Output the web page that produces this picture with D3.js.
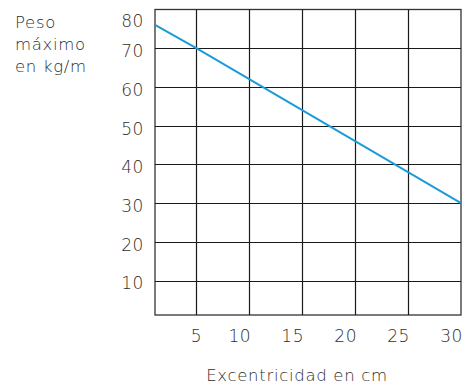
<!DOCTYPE html>
<html><head><meta charset="utf-8">
<script src="https://cdn.jsdelivr.net/npm/d3@7"></script>
<style>
body{margin:0;background:#fff;}
text{font-family:"DejaVu Sans",sans-serif;fill:#2e2e2e;font-weight:200;}
</style></head>
<body><svg id="c" width="464" height="385"></svg>
<script>
const xTicks = [5, 10, 15, 20, 25, 30];
const yTicks = [10, 20, 30, 40, 50, 60, 70, 80];
const eccentricity = [1.1, 5, 10, 15, 20, 25, 30];
const maxWeight = [76, 70, 62, 54, 46, 38, 30];
const yTitle = ["Peso", "máximo", "en kg/m"];
const xTitle = "Excentricidad en cm";

const svg = d3.select("#c");
const L = 155, R = 461, T = 9.5, B = 315;
const x = d3.scaleLinear().domain([1.1, 30]).range([L, R]);
const y = d3.scaleLinear().domain([1.1, 80]).range([B, T]);

const g = svg.append("g");
g.append("rect").attr("x", L).attr("y", y(80)).attr("width", R - L).attr("height", B - y(80))
  .attr("fill", "none").attr("stroke", "#333").attr("stroke-width", 1.3);

g.selectAll("line.v").data(xTicks.slice(0, -1)).join("line")
  .attr("x1", d => Math.round(x(d)) + 0.5).attr("x2", d => Math.round(x(d)) + 0.5)
  .attr("y1", y(80)).attr("y2", B).attr("stroke", "#1a1a1a").attr("stroke-width", 1.2);
g.selectAll("line.h").data(yTicks.slice(0, -1)).join("line")
  .attr("x1", L).attr("x2", R)
  .attr("y1", d => Math.round(y(d)) + 0.5).attr("y2", d => Math.round(y(d)) + 0.5)
  .attr("stroke", "#1a1a1a").attr("stroke-width", 1.2);

g.append("path").datum(eccentricity.map((e, i) => [e, maxWeight[i]]))
  .attr("d", d3.line().x(d => x(d[0])).y(d => y(d[1])))
  .attr("fill", "none").attr("stroke", "#1b9bd7").attr("stroke-width", 2);

svg.selectAll("text.yt").data(yTicks).join("text")
  .attr("x", 144).attr("y", d => y(d) + (d === 80 ? 11.5 : 3))
  .attr("dy", "0.35em").attr("text-anchor", "end")
  .style("font-size", "17px").style("letter-spacing", "0.6px").text(d => d);

svg.selectAll("text.xt").data(xTicks).join("text")
  .attr("x", d => x(d) + (d === 5 ? 6 : 2)).attr("y", 342)
  .attr("text-anchor", "end").style("font-size", "17px").style("letter-spacing", "0.6px").text(d => d);

svg.selectAll("text.yl").data(yTitle).join("text")
  .attr("x", 15).attr("y", (d, i) => 28 + i * 22)
  .style("font-size", "16.5px").style("letter-spacing", "0.7px").text(d => d);
svg.append("text").attr("x", 297).attr("y", 381).attr("text-anchor", "middle")
  .style("font-size", "16.5px").style("letter-spacing", "0.7px").text(xTitle);
</script></body></html>
